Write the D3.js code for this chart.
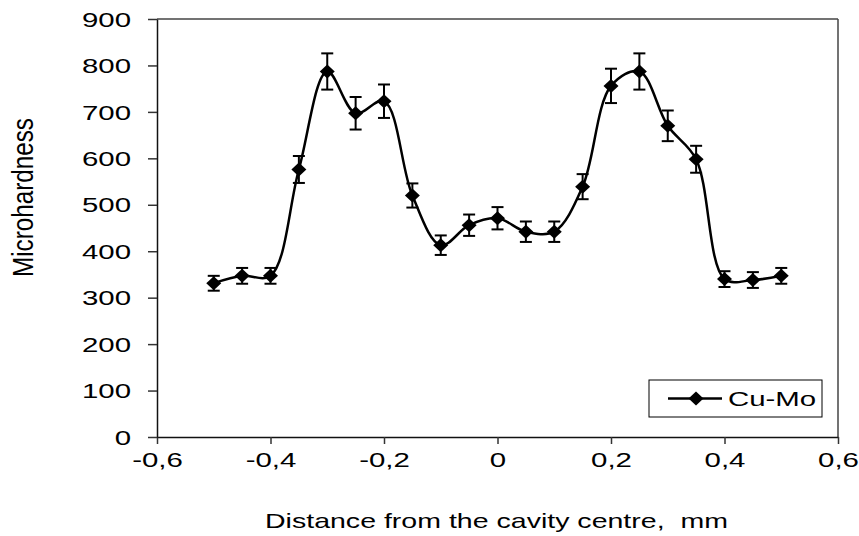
<!DOCTYPE html>
<html>
<head>
<meta charset="utf-8">
<script src="https://cdn.jsdelivr.net/npm/d3@7"></script>
<style>
  body { margin: 0; background: #fff; }
  text { font-family: "Liberation Sans", Arial, sans-serif; fill: #000; }
</style>
</head>
<body>
<div id="chart"></div>
<script>
// distance from cavity centre (mm)
var distances = [-0.5, -0.45, -0.4, -0.35, -0.3, -0.25, -0.2, -0.15, -0.1, -0.05, 0,
  0.05, 0.1, 0.15, 0.2, 0.25, 0.3, 0.35, 0.4, 0.45, 0.5];
// Cu-Mo microhardness
var hardness = [331, 347, 347, 576, 787, 697, 723, 520, 413, 456, 471,
  442, 442, 539, 756, 787, 670, 598, 340, 338, 347];
// error bar half-length
var errors = [16, 17, 17, 29, 39, 35, 36, 26, 21, 23, 24,
  22, 22, 27, 37, 39, 33, 29, 17, 17, 17];
var xTicks = [-0.6, -0.4, -0.2, 0, 0.2, 0.4, 0.6];
var yTicks = [0, 100, 200, 300, 400, 500, 600, 700, 800, 900];
var seriesName = "Cu-Mo";

var svgWidth = 859;
var svgHeight = 536;
var margin = { top: 19, right: 21, bottom: 99, left: 157 };
var width = svgWidth - margin.left - margin.right;
var height = svgHeight - margin.top - margin.bottom;

// the picture is stretched sideways, so text is widened to match
var stretch = 1.47;

var svg = d3.select("#chart")
  .append("svg")
  .attr("width", svgWidth)
  .attr("height", svgHeight);

var chartGroup = svg.append("g")
  .attr("transform", `translate(${margin.left}, ${margin.top})`);

var xScale = d3.scaleLinear().domain([-0.6, 0.6]).range([0, width]);
var yScale = d3.scaleLinear().domain([0, 900]).range([height, 0]);

function widen(sel) {
  sel.each(function() {
    var w = this.getComputedTextLength();
    d3.select(this)
      .attr("textLength", w * stretch)
      .attr("lengthAdjust", "spacingAndGlyphs");
  });
}

// frame top and right
chartGroup.append("line")
  .attr("x1", 0).attr("x2", width).attr("y1", 0).attr("y2", 0)
  .attr("stroke", "#444").attr("stroke-width", 1.5);
chartGroup.append("line")
  .attr("x1", width).attr("x2", width).attr("y1", 0).attr("y2", height)
  .attr("stroke", "#444").attr("stroke-width", 1.5);

// axes
var bottomAxis = d3.axisBottom(xScale)
  .tickValues(xTicks)
  .tickSizeInner(7).tickSizeOuter(0)
  .tickPadding(9)
  .tickFormat(d => d === 0 ? "0" : d3.format(".1f")(d).replace("\u2212", "-").replace(".", ","));
var leftAxis = d3.axisLeft(yScale)
  .tickValues(yTicks)
  .tickSizeInner(9).tickSizeOuter(0)
  .tickPadding(17);

var xAxis = chartGroup.append("g")
  .attr("transform", `translate(0, ${height})`)
  .call(bottomAxis);
var yAxis = chartGroup.append("g")
  .call(leftAxis);

[xAxis, yAxis].forEach(function(ax) {
  ax.select(".domain").attr("stroke", "#111").attr("stroke-width", 1.5);
  ax.selectAll(".tick line").attr("stroke", "#333").attr("stroke-width", 1.5);
  ax.selectAll("text")
    .attr("font-size", 20)
    .attr("font-family", "Liberation Sans, Arial, sans-serif")
    .attr("fill", "#000");
});
xAxis.selectAll("text").attr("dy", "0.72em");
yAxis.selectAll("text").attr("dy", "0.36em");
xAxis.selectAll("text").call(widen);
yAxis.selectAll("text").call(widen);

// smooth line
var line = d3.line()
  .x((d, i) => xScale(distances[i]))
  .y(d => yScale(d))
  .curve(d3.curveCatmullRom.alpha(0.5));

chartGroup.append("path")
  .datum(hardness)
  .attr("fill", "none")
  .attr("stroke", "#000")
  .attr("stroke-width", 2.5)
  .attr("d", line);

// error bars
var errGroup = chartGroup.selectAll(".err")
  .data(hardness)
  .enter()
  .append("g")
  .attr("class", "err")
  .attr("stroke", "#000")
  .attr("stroke-width", 2);

errGroup.append("line")
  .attr("x1", (d, i) => xScale(distances[i]))
  .attr("x2", (d, i) => xScale(distances[i]))
  .attr("y1", (d, i) => yScale(d + errors[i]))
  .attr("y2", (d, i) => yScale(d - errors[i]));
errGroup.append("line")
  .attr("x1", (d, i) => xScale(distances[i]) - 6)
  .attr("x2", (d, i) => xScale(distances[i]) + 6)
  .attr("y1", (d, i) => yScale(d + errors[i]))
  .attr("y2", (d, i) => yScale(d + errors[i]));
errGroup.append("line")
  .attr("x1", (d, i) => xScale(distances[i]) - 6)
  .attr("x2", (d, i) => xScale(distances[i]) + 6)
  .attr("y1", (d, i) => yScale(d - errors[i]))
  .attr("y2", (d, i) => yScale(d - errors[i]));

// diamond markers
function diamond(cx, cy) {
  return `M${cx},${cy - 7}L${cx + 7.5},${cy}L${cx},${cy + 7}L${cx - 7.5},${cy}Z`;
}
chartGroup.selectAll(".marker")
  .data(hardness)
  .enter()
  .append("path")
  .attr("class", "marker")
  .attr("d", (d, i) => diamond(xScale(distances[i]), yScale(d)))
  .attr("fill", "#000");

// legend
var legend = svg.append("g").attr("transform", "translate(649, 380)");
legend.append("rect")
  .attr("x", 0).attr("y", 0)
  .attr("width", 173).attr("height", 37)
  .attr("fill", "#fff").attr("stroke", "#000").attr("stroke-width", 1);
legend.append("line")
  .attr("x1", 19).attr("x2", 73).attr("y1", 18.5).attr("y2", 18.5)
  .attr("stroke", "#000").attr("stroke-width", 2.5);
legend.append("path")
  .attr("d", diamond(47, 18.5))
  .attr("fill", "#000");
legend.append("text")
  .attr("x", 79).attr("y", 26)
  .attr("font-size", 20)
  .text(seriesName)
  .call(widen);

// axis titles
svg.append("text")
  .attr("x", 496.5).attr("y", 528)
  .attr("text-anchor", "middle")
  .attr("font-size", 21)
  .style("white-space", "pre")
  .attr("textLength", 463)
  .attr("lengthAdjust", "spacingAndGlyphs")
  .text("Distance from the cavity centre,  mm");

svg.append("text")
  .attr("transform", "translate(33, 197.5) scale(1.45, 1) rotate(-90)")
  .attr("text-anchor", "middle")
  .attr("font-size", 20)
  .attr("textLength", 159)
  .attr("lengthAdjust", "spacingAndGlyphs")
  .text("Microhardness");
</script>
</body>
</html>
